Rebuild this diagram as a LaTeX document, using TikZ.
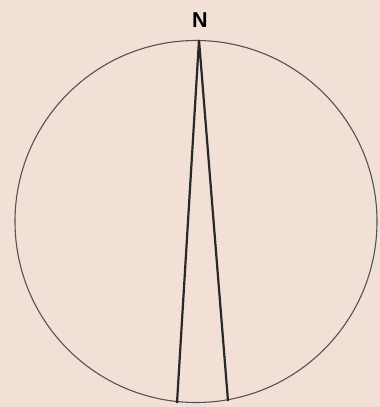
\documentclass[tikz,border=0pt]{standalone}
\usepackage{fontspec}
\setmainfont{Liberation Sans}
\usepackage{tikz}
\usepackage{xcolor}
\definecolor{paper}{RGB}{242,224,214}
\definecolor{ink}{RGB}{40,40,40}

\begin{document}
\begin{tikzpicture}[x=1pt, y=-1pt, every node/.style={font=\bfseries}]
  \useasboundingbox[fill=paper] (0,0) rectangle (380,407);
  \draw[ink!80, line width=1.1pt] (196,221.5) circle (181);
  \node[font=\bfseries\fontsize{21.5}{21.5}\selectfont, inner sep=0pt] (north) at (200,20) {N};
  \coordinate (apex) at (199,40);
  \coordinate (baseleft) at (177,403);
  \coordinate (baseright) at (228,401);
  \draw[ink, line width=2.2pt, line join=miter] (baseleft) -- (apex) -- (baseright);
\end{tikzpicture}
\end{document}
